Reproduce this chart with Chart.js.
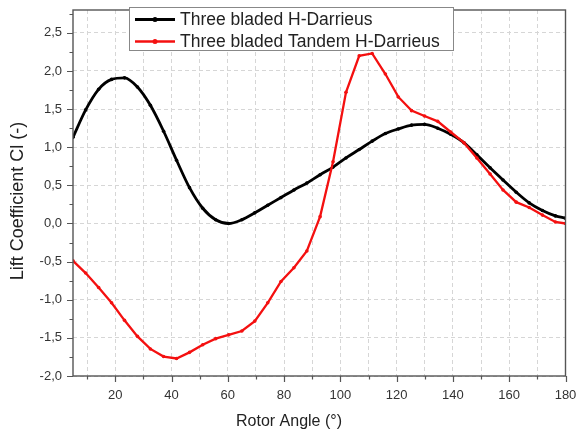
<!DOCTYPE html>
<html>
<head>
<meta charset="utf-8">
<script src="https://cdn.jsdelivr.net/npm/chart.js@4.4.1/dist/chart.umd.min.js"></script>
<style>
  html, body { margin: 0; padding: 0; background: #fff; }
</style>
</head>
<body>
<canvas id="chart" width="576" height="435"></canvas>
<script>
const FONT = '"Liberation Sans", Arial, sans-serif';

// rotor angle (deg) of each sample
const angles = [5, 9.5, 14.1, 18.7, 23.3, 27.9, 32.5, 37.2, 41.8, 46.4, 51.1, 55.7, 60.3,
  65.0, 69.6, 74.2, 78.9, 83.5, 88.1, 92.8, 97.4, 102.0, 106.7, 111.3, 116.0, 120.6,
  125.3, 129.9, 134.6, 139.2, 143.9, 148.5, 153.2, 157.8, 162.5, 167.1, 171.8, 176.4, 180];

const liftSingle = [1.13, 1.49, 1.76, 1.89, 1.91, 1.79, 1.55, 1.21, 0.83, 0.47, 0.20, 0.05, 0.00,
  0.05, 0.14, 0.24, 0.34, 0.44, 0.53, 0.64, 0.74, 0.86, 0.97, 1.08, 1.18, 1.24,
  1.29, 1.30, 1.25, 1.17, 1.06, 0.90, 0.73, 0.57, 0.41, 0.27, 0.17, 0.10, 0.07];

const liftTandem = [-0.49, -0.65, -0.84, -1.04, -1.27, -1.48, -1.645, -1.745, -1.77, -1.69, -1.59, -1.51, -1.46,
  -1.41, -1.28, -1.04, -0.76, -0.58, -0.36, 0.09, 0.81, 1.72, 2.20, 2.23, 1.96, 1.66,
  1.48, 1.41, 1.34, 1.20, 1.06, 0.86, 0.65, 0.44, 0.28, 0.21, 0.11, 0.02, 0.00];

const seriesNames = ["Three bladed H-Darrieus", "Three bladed Tandem H-Darrieus"];

const xTickValues = [10, 20, 30, 40, 50, 60, 70, 80, 90, 100, 110, 120, 130, 140, 150, 160, 170, 180];
const xMajorTicks = [20, 40, 60, 80, 100, 120, 140, 160, 180];
const xMinorTicks = [10, 30, 50, 70, 90, 110, 130, 150, 170];
const yTickValues = [-2, -1.5, -1, -0.5, 0, 0.5, 1, 1.5, 2, 2.5];
const yMinorTicks = [-1.75, -1.25, -0.75, -0.25, 0.25, 0.75, 1.25, 1.75, 2.25, 2.75];

const toPoints = (vals) => angles.map((a, i) => ({ x: a, y: vals[i] }));

const noPadding = (s) => {
  s.paddingLeft = 0; s.paddingRight = 0; s.paddingTop = 0; s.paddingBottom = 0;
};

// frame, tick marks, axis titles and the boxed legend
const decorations = {
  id: "decorations",
  afterDatasetsDraw(chart) {
    const ctx = chart.ctx;
    const area = chart.chartArea;
    const xs = chart.scales.x;
    const ys = chart.scales.y;
    ctx.save();

    ctx.strokeStyle = "#555";
    ctx.lineWidth = 1.2;
    ctx.beginPath();
    xMajorTicks.forEach((v) => {
      const px = Math.round(xs.getPixelForValue(v)) + 0.5;
      ctx.moveTo(px, area.bottom); ctx.lineTo(px, area.bottom + 6);
    });
    xMinorTicks.forEach((v) => {
      const px = Math.round(xs.getPixelForValue(v)) + 0.5;
      ctx.moveTo(px, area.bottom); ctx.lineTo(px, area.bottom + 3.5);
    });
    yTickValues.forEach((v) => {
      const py = Math.round(ys.getPixelForValue(v)) + 0.5;
      ctx.moveTo(area.left, py); ctx.lineTo(area.left - 6, py);
    });
    yMinorTicks.forEach((v) => {
      const py = Math.round(ys.getPixelForValue(v)) + 0.5;
      ctx.moveTo(area.left, py); ctx.lineTo(area.left - 3.5, py);
    });
    ctx.stroke();

    ctx.strokeStyle = "#555";
    ctx.lineWidth = 1.4;
    ctx.strokeRect(area.left, area.top, area.right - area.left, area.bottom - area.top);

    // axis titles
    ctx.fillStyle = "#222";
    ctx.textAlign = "center";
    ctx.textBaseline = "middle";
    ctx.font = "16px " + FONT;
    ctx.fillText("Rotor Angle (\u00b0)", 289, 422);
    ctx.save();
    ctx.translate(18, 201);
    ctx.rotate(-Math.PI / 2);
    ctx.font = "18px " + FONT;
    ctx.fillText("Lift Coefficient Cl (-)", 0, 0);
    ctx.restore();

    // legend
    ctx.fillStyle = "#fff";
    ctx.fillRect(129.5, 7.5, 324, 43);
    ctx.strokeStyle = "#888";
    ctx.lineWidth = 1;
    ctx.strokeRect(129.5, 7.5, 324, 43);
    ctx.font = "17.5px " + FONT;
    ctx.textAlign = "left";
    chart.data.datasets.forEach((ds, i) => {
      const y = 19.5 + i * 22;
      ctx.strokeStyle = ds.borderColor;
      ctx.lineWidth = ds.borderWidth;
      ctx.beginPath();
      ctx.moveTo(135, y); ctx.lineTo(175, y);
      ctx.stroke();
      ctx.fillStyle = ds.borderColor;
      ctx.beginPath();
      ctx.arc(155, y, 2.5, 0, Math.PI * 2);
      ctx.fill();
      ctx.fillStyle = "#222";
      ctx.fillText(ds.label, 180, y + 1);
    });

    ctx.restore();
  },
};

new Chart(document.getElementById("chart"), {
  type: "line",
  data: {
    datasets: [
      {
        label: seriesNames[0],
        data: toPoints(liftSingle),
        borderColor: "#000",
        backgroundColor: "#000",
        borderWidth: 2.8,
        pointRadius: 1.8,
        pointBackgroundColor: "#000",
        pointBorderWidth: 0,
        cubicInterpolationMode: "monotone",
        order: 2,
      },
      {
        label: seriesNames[1],
        data: toPoints(liftTandem),
        borderColor: "#f41010",
        backgroundColor: "#f41010",
        borderWidth: 2.3,
        pointRadius: 1.8,
        pointBackgroundColor: "#f41010",
        pointBorderWidth: 0,
        tension: 0,
        order: 1,
      },
    ],
  },
  options: {
    responsive: false,
    animation: false,
    devicePixelRatio: 1,
    layout: { padding: { top: 10, right: 10.5, left: 0, bottom: 0 } },
    plugins: { legend: { display: false }, tooltip: { enabled: false } },
    scales: {
      x: {
        type: "linear",
        min: 5,
        max: 180,
        afterBuildTicks: (s) => { s.ticks = xTickValues.map((v) => ({ value: v })); },
        afterFit: (s) => { s.height = 59; noPadding(s); },
        ticks: {
          callback: (v) => (v % 20 === 0 ? String(v) : ""),
          font: { family: FONT, size: 13 },
          color: "#333",
          padding: 12,
          maxRotation: 0,
          autoSkip: false,
        },
        grid: { color: "#d6d6d6", lineWidth: 1, drawTicks: false },
        border: { display: false, dash: [4, 3] },
      },
      y: {
        min: -2,
        max: 2.8,
        afterBuildTicks: (s) => { s.ticks = yTickValues.map((v) => ({ value: v })); },
        afterFit: (s) => { s.width = 73; noPadding(s); },
        ticks: {
          callback: (v) => v.toFixed(1).replace(".", ","),
          font: { family: FONT, size: 13 },
          color: "#333",
          padding: 11,
        },
        grid: { color: "#d6d6d6", lineWidth: 1, drawTicks: false },
        border: { display: false, dash: [4, 3] },
      },
    },
  },
  plugins: [decorations],
});
</script>
</body>
</html>
